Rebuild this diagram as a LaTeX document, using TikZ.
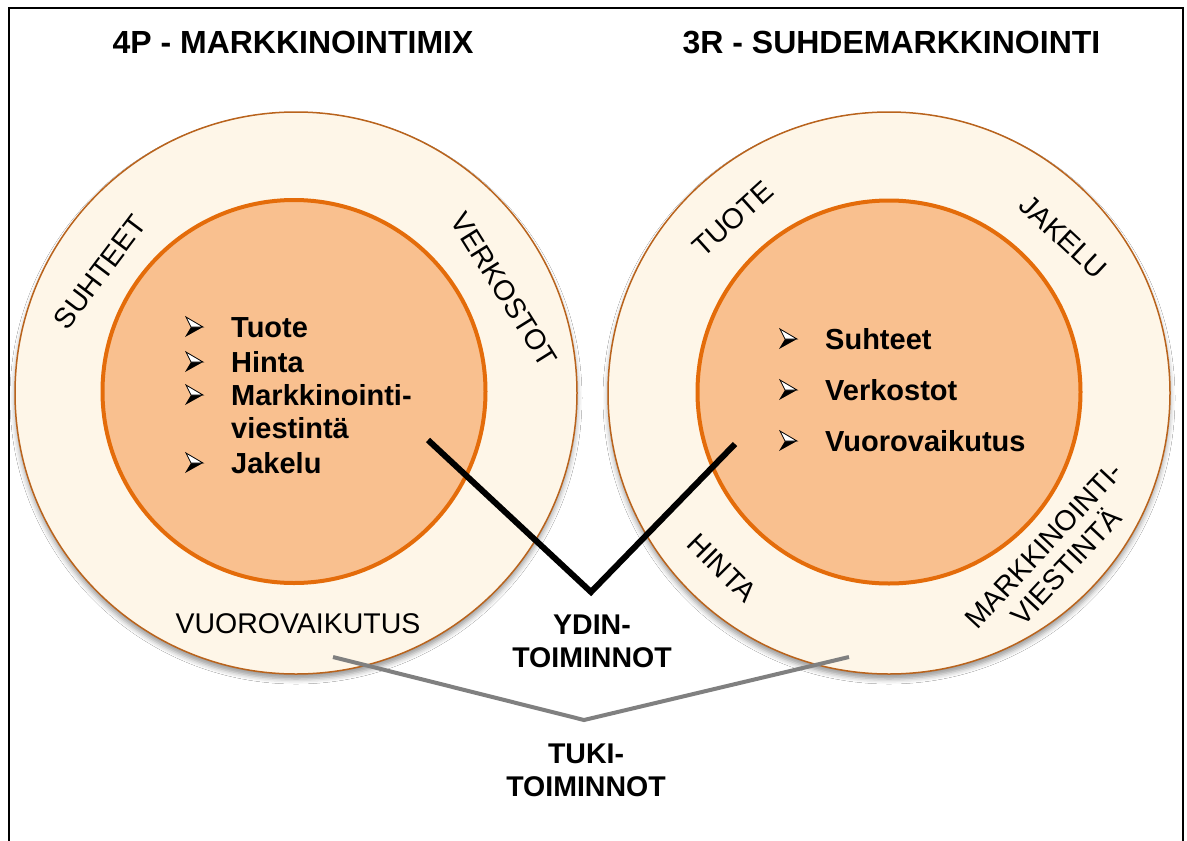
\documentclass[tikz,border=0pt]{standalone}
\usepackage{fontspec}
\setmainfont{Liberation Sans}
\usetikzlibrary{shadows.blur}
\definecolor{ringfill}{HTML}{FEF6E8}
\definecolor{ringline}{HTML}{B9631C}
\definecolor{corefill}{HTML}{F9C08F}
\definecolor{coreline}{HTML}{E46C0A}
\definecolor{tukigray}{HTML}{808080}
\tikzset{
  outerring/.style={circle, draw=ringline, line width=1.5pt, fill=ringfill,
    minimum size=562pt, inner sep=0pt,
    blur shadow={shadow xshift=0pt, shadow yshift=-5pt, shadow blur radius=5pt, shadow opacity=40}},
  core/.style={circle, draw=coreline, line width=4pt, fill=corefill, minimum size=383pt, inner sep=0pt},
  titletxt/.style={font=\fontsize{32}{34}\selectfont\bfseries, anchor=base, inner sep=0pt},
  itemtxt/.style={font=\fontsize{29}{31}\selectfont\bfseries, anchor=base west, inner sep=0pt},
  ringlbl/.style={font=\fontsize{28.5}{31}\selectfont, inner sep=0pt, align=center},
  midlbl/.style={font=\fontsize{28.5}{33}\selectfont\bfseries, align=center, inner sep=0pt},
  ydinline/.style={line width=6pt, black, line join=miter},
  tukiline/.style={line width=4pt, tukigray, line join=miter},
  bulletarrow/.pic={
    \fill[black] (6,-10) -- (18,-10) -- (0,0) -- cycle;
    \filldraw[fill=white, draw=black, line width=0.8pt, line join=miter] (1,-20) -- (18,-10) -- (6,-10) -- cycle;
  }
}
\begin{document}
\begin{tikzpicture}[x=1pt,y=-1pt]
\useasboundingbox (0,0) rectangle (1187,841);
\fill[white] (0,0) rectangle (1187,841);
\draw[line width=2pt] (8.5,860) -- (8.5,7.5) -- (1182.5,7.5) -- (1182.5,860);

% titles
\node[titletxt] (t4p) at (293,53) {4P - MARKKINOINTIMIX};
\node[titletxt] (t3r) at (891.5,53) {3R - SUHDEMARKKINOINTI};

% circles
\node[outerring] (LO) at (296,393) {};
\node[outerring] (RO) at (889,393) {};
\node[core] (LI) at (294,391.5) {};
\node[core] (RI) at (889,392) {};

% left list
\pic at (185,337) {bulletarrow};
\pic at (185,372) {bulletarrow};
\pic at (185,405) {bulletarrow};
\pic at (185,473) {bulletarrow};
\node[itemtxt] (l1) at (231,337) {Tuote};
\node[itemtxt] (l2) at (231,372) {Hinta};
\node[itemtxt] (l3) at (231,405) {Markkinointi-};
\node[itemtxt] (l4) at (231,438) {viestintä};
\node[itemtxt] (l5) at (231,473) {Jakelu};

% right list
\pic at (779,349) {bulletarrow};
\pic at (779,400) {bulletarrow};
\pic at (779,451) {bulletarrow};
\node[itemtxt] (r1) at (825,349) {Suhteet};
\node[itemtxt] (r2) at (825,400) {Verkostot};
\node[itemtxt] (r3) at (825,451) {Vuorovaikutus};

% ring labels left
\node[ringlbl, rotate=53] (suh) at (100,272) {SUHTEET};
\node[ringlbl, rotate=-58] (verk) at (504,290) {VERKOSTOT};
\node[ringlbl, anchor=base] (vuor) at (298,633) {VUOROVAIKUTUS};

% ring labels right
\node[ringlbl, rotate=42] (tuo) at (733,219) {TUOTE};
\node[ringlbl, rotate=-43] (jak) at (1063,237) {JAKELU};
\node[ringlbl, rotate=-45] (hin) at (722,568) {HINTA};
\node[ringlbl, rotate=47] (mv) at (1055,556) {MARKKINOINTI-\\VIESTINTÄ};

% connectors
\coordinate (yA) at (428,440);
\coordinate (yV) at (591,592);
\coordinate (yB) at (735,444);
\draw[ydinline] (yA) -- (yV) -- (yB);

\coordinate (tA) at (333,657);
\coordinate (tV) at (584,720);
\coordinate (tB) at (849,657);
\draw[tukiline] (tA) -- (tV) -- (tB);

\node[midlbl] (ydin) at (592,641) {YDIN-\\TOIMINNOT};
\node[midlbl] (tuki) at (586,770) {TUKI-\\TOIMINNOT};
\end{tikzpicture}
\end{document}
